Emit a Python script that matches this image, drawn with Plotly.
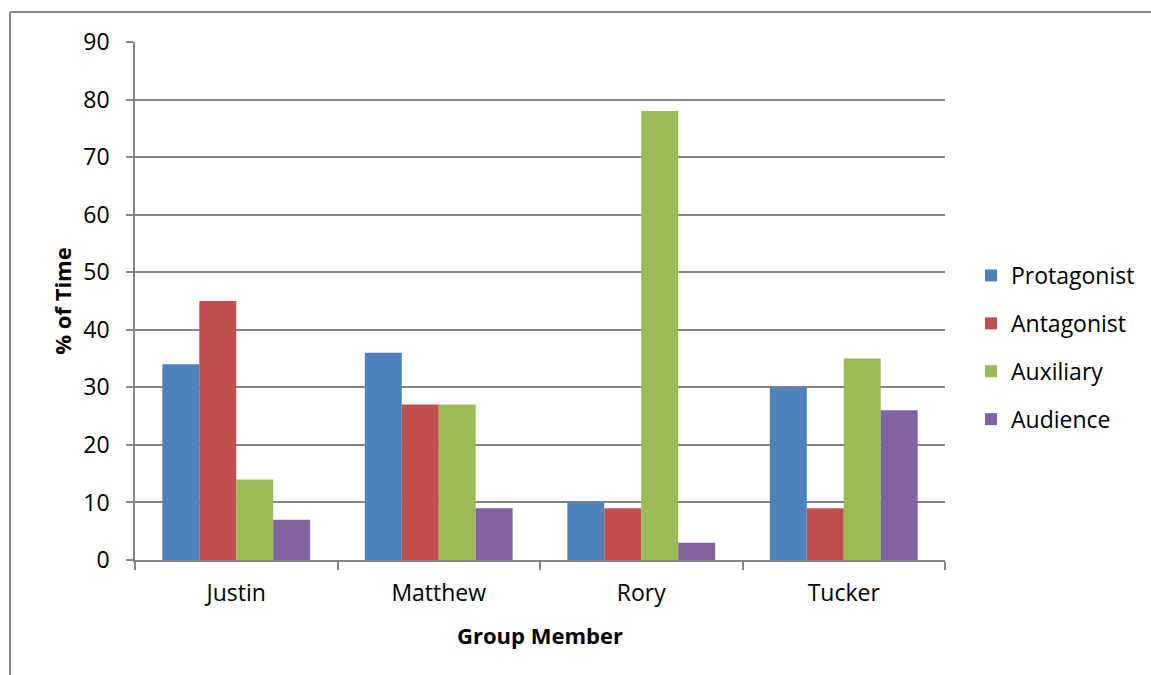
import plotly.graph_objects as go

members = ["Justin", "Matthew", "Rory", "Tucker"]
protagonist = [34, 36, 10, 30]
antagonist = [45, 27, 9, 9]
auxiliary = [14, 27, 78, 35]
audience = [7, 9, 3, 26]

series = [
    ("Protagonist", protagonist, "#4F81BD"),
    ("Antagonist", antagonist, "#C0504D"),
    ("Auxiliary", auxiliary, "#9BBB59"),
    ("Audience", audience, "#8064A2"),
]

FONT = "Open Sans"
FS = 23
GRID = "#868686"

fig = go.Figure()
for i, (name, vals, col) in enumerate(series):
    fig.add_trace(go.Bar(x=members, y=vals, name=name, marker_color=col,
                         marker_line_width=0, legendgroup=str(i)))

W, H = 1151, 675
L, R, T, B = 135, 206, 42, 115
pw, ph = W - L - R, H - T - B

def px(x):
    return (x - L) / pw

def py(y):
    return (H - B - y) / ph

fig.update_layout(
    width=W, height=H,
    margin=dict(l=L, r=R, t=T, b=B, autoexpand=False),
    paper_bgcolor="white", plot_bgcolor="white",
    barmode="group", bargap=0.27, bargroupgap=0,
    font=dict(family=FONT, size=FS, color="black"),
    showlegend=True,
    legend=dict(x=px(971), y=py(254), xanchor="left", yanchor="top",
                traceorder="grouped", tracegroupgap=15,
                font=dict(family=FONT, size=FS, color="black"),
                itemwidth=30, bgcolor="rgba(0,0,0,0)"),
    xaxis=dict(
        showline=True, linecolor=GRID, linewidth=1.5,
        ticks="outside", tickson="boundaries", ticklen=8, tickcolor=GRID, tickwidth=1.5,
        ticklabelstandoff=12,
        tickfont=dict(family=FONT, size=FS, color="black"),
        title=dict(text="<b>Group Member</b>", font=dict(family=FONT, size=FS - 1, color="black"), standoff=21),
        showgrid=False,
    ),
    yaxis=dict(
        range=[0, 90], dtick=10, tick0=0,
        showline=True, linecolor=GRID, linewidth=1.5,
        ticks="outside", ticklen=7, tickcolor=GRID, tickwidth=1.5,
        ticklabelstandoff=12,
        showgrid=True, gridcolor=GRID, gridwidth=1.5,
        zeroline=False,
        tickfont=dict(family=FONT, size=FS, color="black"),
        title=dict(text="<b>% of Time</b>", font=dict(family=FONT, size=FS - 1, color="black"), standoff=6),
    ),
    shapes=[
        dict(type="line", xref="paper", yref="paper", x0=px(10), x1=px(W + 5), y0=py(12), y1=py(12),
             line=dict(color=GRID, width=2)),
        dict(type="line", xref="paper", yref="paper", x0=px(10), x1=px(10), y0=py(12), y1=py(H + 5),
             line=dict(color=GRID, width=2)),
    ],
)

fig.write_html("out.html")
